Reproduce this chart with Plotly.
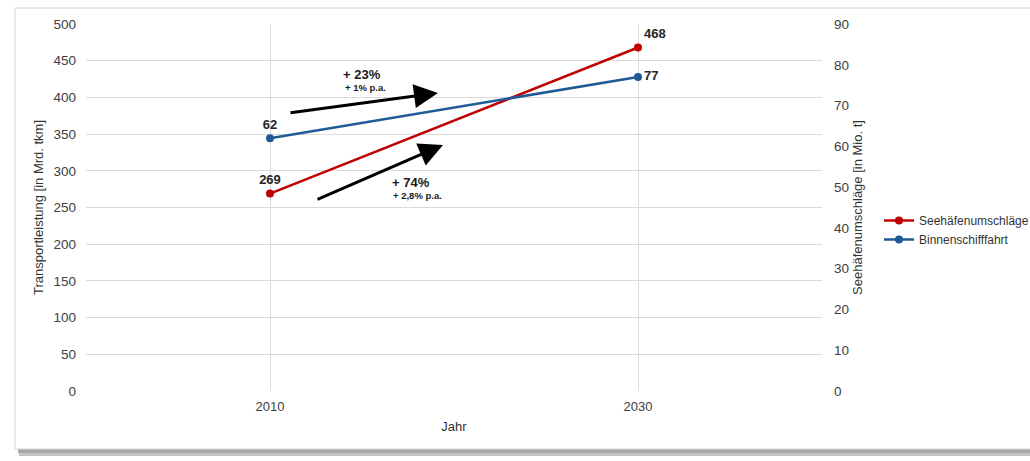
import plotly.graph_objects as go

years = [2010, 2030]
seehafen = [269, 468]          # left axis, Transportleistung
binnen = [62, 77]              # right axis, Seehäfenumschläge
seehafen_name = "Seehäfenumschläge"
binnen_name = "Binnenschifffahrt"
left_ticks = list(range(0, 501, 50))
right_ticks = list(range(0, 91, 10))

RED = "#C00000"
BLUE = "#1F5A96"
FONT = "Liberation Sans, Arial, sans-serif"

W, H = 1030, 461
L, R, T, B = 86, 822, 24, 391


def px(x):
    return (x - L) / (R - L)


def py(y):
    return (B - y) / (B - T)


fig = go.Figure()
fig.add_trace(go.Scatter(
    x=years, y=seehafen, name=seehafen_name, mode="lines+markers+text",
    line=dict(color=RED, width=2.5), marker=dict(color=RED, size=8),
    text=[str(v) for v in seehafen], textposition=["top center", "top right"],
    textfont=dict(family=FONT, size=13, color="#262626", weight="bold"),
    cliponaxis=False,
))
fig.add_trace(go.Scatter(
    x=years, y=binnen, name=binnen_name, mode="lines+markers+text", yaxis="y2",
    line=dict(color=BLUE, width=2.5), marker=dict(color=BLUE, size=8),
    text=[str(v) for v in binnen], textposition=["top center", "middle right"],
    textfont=dict(family=FONT, size=13, color="#262626", weight="bold"),
    cliponaxis=False,
))

# frame and shadow
shapes = [
    dict(type="rect", xref="paper", yref="paper", layer="below",
         x0=px(19), x1=px(1100), y0=py(452), y1=py(456),
         fillcolor="#c4c4c4", line=dict(width=0)),
    dict(type="rect", xref="paper", yref="paper", layer="below",
         x0=px(18), x1=px(1100), y0=py(449), y1=py(453),
         fillcolor="#a8a8a8", line=dict(width=0)),
    dict(type="rect", xref="paper", yref="paper", layer="below",
         x0=px(15), x1=px(1100), y0=py(449), y1=py(8),
         fillcolor="white", line=dict(color="#d4d4d4", width=1)),
]

annotations = []
# growth arrows
for (hx, hy, tx, ty) in [(438, 93, 289, 113), (443, 145, 316, 200)]:
    annotations.append(dict(
        x=px(hx), y=py(hy), xref="paper", yref="paper", ax=tx - hx, ay=ty - hy,
        showarrow=True, arrowhead=2, arrowsize=1.6, arrowwidth=3, arrowcolor="black",
        text="",
    ))
for (x, y, txt, size) in [(362, 74, "+ 23%", 13), (365, 87, "+ 1% p.a.", 9.5),
                          (411, 183, "+ 74%", 13), (417, 195, "+ 2,8% p.a.", 9.5)]:
    annotations.append(dict(
        x=px(x), y=py(y), xref="paper", yref="paper", showarrow=False,
        text=f"<b>{txt}</b>", font=dict(family=FONT, size=size, color="#1a1a1a"),
        xanchor="center", yanchor="middle",
    ))

fig.update_layout(
    width=W, height=H,
    margin=dict(l=L, r=W - R, t=T, b=H - B, autoexpand=False),
    paper_bgcolor="white", plot_bgcolor="white",
    font=dict(family=FONT, size=13, color="#404040"),
    showlegend=True,
    legend=dict(x=px(879), y=py(230), xanchor="left", yanchor="middle",
                font=dict(family=FONT, size=12, color="#333333"),
                bgcolor="rgba(0,0,0,0)", tracegroupgap=0, itemwidth=30),
    xaxis=dict(range=[2000, 2040], tickvals=years, ticktext=[str(y) for y in years],
               showgrid=True, gridcolor="#dadada", gridwidth=1, zeroline=False,
               showline=False, ticks="", ticklabelstandoff=6,
               title=dict(text="Jahr", font=dict(size=13, color="#333333"), standoff=8)),
    yaxis=dict(range=[0, 500], tickvals=left_ticks, showgrid=True, gridcolor="#dadada",
               gridwidth=1, zeroline=False, showline=False, ticks="", ticklabelstandoff=9,
               tickfont=dict(size=13.5),
               title=dict(text="Transportleistung [in Mrd. tkm]",
                          font=dict(size=13, color="#333333"), standoff=6)),
    yaxis2=dict(range=[0, 90], tickvals=right_ticks, overlaying="y", side="right",
                showgrid=False, zeroline=False, showline=False, ticks="",
                ticklabelstandoff=11, tickfont=dict(size=13.5),
                title=dict(text="Seehäfenumschläge [in Mio. t]",
                           font=dict(size=13, color="#333333"), standoff=4)),
    shapes=shapes,
    annotations=annotations,
)

fig.write_html("out.html")
